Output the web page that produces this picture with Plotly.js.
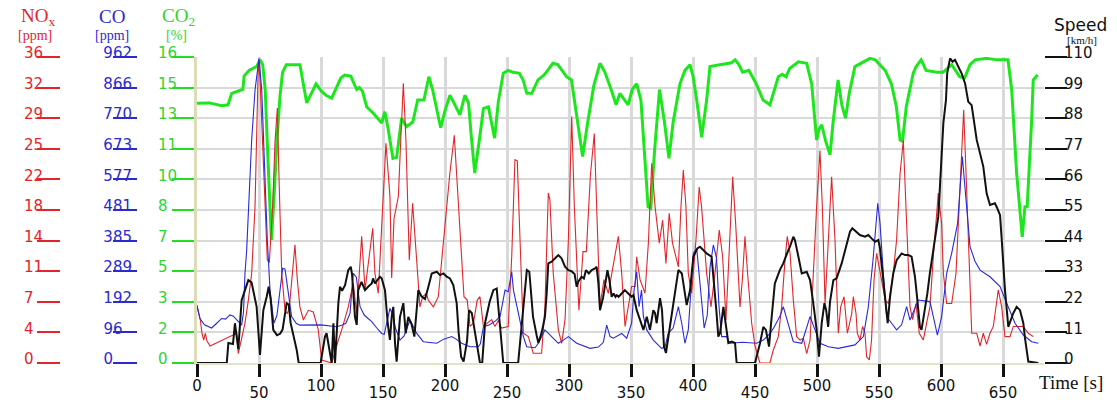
<!DOCTYPE html>
<html>
<head>
<meta charset="utf-8">
<script src="https://cdn.plot.ly/plotly-3.0.1.min.js"></script>
<style>html,body{margin:0;padding:0;background:#fff;}#chart{width:1117px;height:402px;}</style>
</head>
<body>
<div id="chart"></div>
<script>
// ---------------- data ----------------
const xTicks = [0,50,100,150,200,250,300,350,400,450,500,550,600,650];
const noxTicks = ['0','4','7','11','14','18','22','25','29','32','36'];
const coTicks = ['0','96','192','289','385','481','577','673','770','866','962'];
const co2Ticks = ['0','2','3','5','7','8','10','11','13','15','16'];
const speedTicks = ['0','11','22','33','44','55','66','77','88','99','110'];

const tSpeed = [0,24,25.3,29,30.6,33.3,36,40,41.4,44,46.6,48.1,50.8,52.5,53.5,56.2,57.8,59.4,61.5,64.5,67,69,72.3,74,75.5,80.4,82,99.7,103.2,104.5,107.3,108.6,110,111.3,114,115.3,117,119.4,122,124,125,127.4,128.8,130,132.7,135.5,138,140.9,142,143.5,147.6,149,151.6,153.8,155.6,157,158.3,159.7,161,162.4,163.7,166.4,168.3,170.4,173,175.3,177,178.5,181,183.9,186.6,189.3,193.3,196,198.7,201.4,204,206.7,209.4,211,213,215,217.8,219.4,221.6,223.4,225,228.2,230,232.3,236,239,241.7,244.4,247,259,261.8,264,266,268,271,273.9,275.3,278,280.6,282,283.3,286,289,291.4,294,296.8,299.5,302,304.5,306.2,307.5,310.2,312,313.7,316,318.3,321,322.3,323.7,325,327.5,329.8,331,332.6,334.4,336,337.5,338.5,340,342.5,345,347.8,350.5,352,354.6,357.3,360,362.7,365.3,368,369.4,370.7,373.4,375,376.6,378.2,381,382.3,385.5,388.2,391,393,394.9,397.6,400.3,403.5,405.6,408.3,411,415,417.7,419,420.4,421.8,424.5,427.2,428.5,431.2,433.9,435.2,450,454,456.7,458.8,461.3,463,466,470,472.8,476.9,478.2,480.9,482.2,485,487.7,491.7,494.4,497,499.7,501.6,503.8,506,507.4,509,510.5,513.2,515.8,519.9,524,526.6,528.5,532,534.6,538.7,541.4,544,546.8,549.5,550.8,552.7,555,557,558.9,561.5,564.2,568.3,571,573.7,576.3,579,580.4,583,584.3,586.5,589,591,593.8,596.5,597.8,599,601.9,604,605,607.3,609.4,611.3,614,616.7,619.4,622,624.7,628.8,634.1,636.8,639.5,643.5,645,647.6,649,651.6,654.3,658.3,661,663.7,666.4,667.7,670.4,678.5];
const speed = [0,0,7.2,6.8,14.3,5,22.6,28.6,29.8,29,24,20.2,2.9,14,19,23.8,27.4,23,11.9,10,10.5,12,21.5,21,14.4,4.7,0,0,9.5,10.7,3,0,14.3,0,21.5,27.4,26,28,33.4,34.6,32,16.6,13.7,26.2,29.2,26.2,27.4,28.6,30.4,28.6,31,30.4,26.2,14.3,8.3,16.6,20.2,7,0.5,8,16.6,21.5,10.7,16.6,14,9.5,19,26.2,24,23,27.4,32.2,32.8,31.6,32.2,31,30.4,28,21.5,11,2.3,0.5,8,19,18,13,9,0,0,14.4,22,26.2,26.8,14.4,0,0,14.4,26,33.4,32.8,16.6,10,7.2,11,16.6,25,35.8,36.4,37.6,38.8,37.6,34.6,33.4,33,32,27.4,29.2,31,30.4,33.4,32.2,33.4,34,34.6,28.6,19,23.5,29.8,33.4,29.8,23.8,25,23.8,24.4,23.8,25,26.2,25,23.8,24.4,19,15.5,11.9,16.6,11.9,19,17.9,14.3,23.3,19,5.9,3.6,11.9,16.6,26.2,33.4,32.2,26.2,20.8,26.2,38.2,41.2,41.8,40.6,39.4,38.2,26.2,17.9,9.5,10.7,20.2,11.9,7.2,7.7,7.2,0,0,7,13,11.9,5.9,14.4,28.6,33.4,35.8,40.6,41.8,45.4,44.2,38.2,32.2,32.8,29.8,21.5,11.9,2.3,14.3,21.5,19,13,22,29.8,30.4,35.8,43,47.2,48.4,47.2,46,45.4,46,44.8,43.6,44.2,41.2,33,23.8,14.3,23.8,32.2,37,39.4,38.8,38.8,38.2,31,25,13,11.9,17.9,25,32.2,40.6,50.2,52.6,62.2,86.2,94.5,104.1,109.5,108.3,109,106.5,104,100.5,93.9,92.7,80.2,70.6,61,56.8,57.4,56,53.2,44.2,26.2,13,17.9,20.2,19,14.3,9,0.5,0];

const tNox = [0,1.2,2.7,4,5.4,6.7,8,10.5,32,33.3,34.7,36,38.7,41.4,44.1,46.8,48.1,49.5,50.8,53,54.8,56.7,58.3,61,62.9,64.8,66.1,68.3,71,72.9,74.5,76.3,79,80.9,83,85.8,89.8,93.8,97.8,100.5,108.6,114,116.7,122,126,128.8,130.2,132.8,135.5,138.2,141.7,143.5,146.2,148.9,152.4,155.6,157,158.9,162.4,164.3,166.4,168.5,171.2,173.9,176.6,179.8,182,185,186.5,190.6,194.6,198.6,203.9,207.5,210.8,215.3,217.9,220.2,222.9,226,228.2,231,237.6,240.3,243,245.6,251,253.8,256.4,258.3,260.5,263.2,267.2,271.2,277.9,280.6,283.3,284.6,287.3,291.4,294.1,296.8,299.5,302.2,304.3,308,311.3,314,317.2,320.4,322.3,325,328.2,331.7,339.8,342.5,345.2,350.5,353.2,354.6,357.3,361.3,364,366.7,369.4,372.8,375.5,378.2,380.8,383.5,388.2,390.3,392.2,394.3,396.2,398.9,402.4,405,406.9,411,414.5,417.7,421.2,423.9,426.6,429.8,432,434.4,437.9,439.8,441.9,444,447.3,450,454,462,464.7,468.8,471.5,474.2,476,478.2,480.9,483.6,486.3,489,491.7,494.4,495.7,497.6,499.7,502.4,504.3,506.5,509.1,511.8,514.5,517.2,519.1,521.8,524.5,528,529.3,531.5,532.5,534.6,536.8,538.7,540,542.2,544,546,548.1,551.3,555,557.7,561.5,564.2,567,569.6,571.8,575,577.1,579.8,582.5,585.7,588.4,591.1,593.8,597.8,600.5,601.9,604.6,608.6,612.1,614.8,618.3,620.2,622.9,624.8,628.8,631.5,634.1,636.8,639.5,642.2,646.2,648.9,651.6,655.6,658.3,666.4,670.4,674.5];
const nox = [6.6,5.8,5.06,3.5,2.7,3.5,2.6,2.0,3.5,1.1,2.0,2.7,4.7,7.4,10.55,18.4,28.2,35.6,33.5,26.2,18.4,12.1,11.8,18.4,26,30,22,10.55,6.2,5.8,6.6,9.8,13.9,9.8,6.6,5.06,6.2,6.0,3.9,0.35,0,2.7,3.9,6.6,9.4,5.8,9.4,14.9,8.6,12,15.85,10.55,8.2,16,25.85,19.6,10,17,19.6,26.2,32.9,26.2,12.1,18.8,13.4,6.6,7.8,8.2,7.4,6.6,7.8,14,22.3,26.8,18.4,7.8,7.4,4.3,4.7,7.4,7.8,4.3,5.1,4.3,5,4.1,4.3,12.5,23.9,23.8,14.5,3.5,3.1,1.14,1.14,6.6,20,19.2,10.55,3.9,2.3,5.1,14.5,29,18.4,6.2,13.1,13.1,22,27,18.4,6.6,9.8,8.2,14.9,10.55,4.3,9,9,12.5,9.8,8.2,14.1,23.5,18.4,14.1,16.8,11.7,17.6,14.1,11.3,18.4,22.7,18.4,10.55,8.2,14.5,20.7,18.4,10.55,6.6,10.55,15.65,12.5,5.06,14.5,21.9,16.4,6.6,9.8,14.9,10.55,4.7,2.0,0,0,1.5,3.1,6.6,12.1,14.9,13,7.4,3.1,2.7,2.9,1.1,2.7,6.6,12.9,18.4,25,18.4,7.0,14.5,21.9,14.5,3.5,6.6,7.8,3.5,5.8,7.8,5.8,3.5,2.7,4.3,3.5,0.74,0.35,2.7,9.8,12.9,10.55,7.4,7.0,10.55,14.5,22.3,26.2,18.4,6.6,5.1,7.0,3.5,2.7,4.7,6.6,12.5,20,16.4,10.55,7.0,7.0,10.55,18.4,29.8,22.3,10.55,3.5,3.5,2.0,3.5,2.2,3.5,4.3,8.6,6.6,3.1,3.1,4.3,4.3,3.5,3.1];

const tCo = [0,2.4,6,9.1,11.8,15.9,19.9,23,26.6,29.3,33.3,36,37.5,38.7,40,41.4,42.8,44.1,46.8,50,52.2,54.8,56.7,58.9,62,64.5,66.8,69.1,71,73.1,76.3,80,83,100,106,112.6,116.7,120,123.4,126,128.5,131.5,135,140.9,145,148.9,151,155.6,158,160,163.7,167,171.8,177.2,182.5,193.3,199,205.4,209,213.4,220.2,226.9,228.5,231,236,241,244.4,248.4,251,253.8,255.2,258,260.5,263.2,265.9,272.6,275.3,280.6,286,291.4,295.4,299.5,306.2,317,323.7,327.7,330.4,333.1,335.8,342.5,346.5,350.5,352.5,354.6,356.5,358.5,360,362.7,368,374.7,377.4,380,384,388.2,390.9,393.5,396.2,398.1,400.3,403,406.5,409,411.5,413.7,416.4,419,421,423.1,427,429.8,440,451.3,456.7,462.1,465,470,472.8,476.9,480.9,487.7,494.4,498.4,502.4,509.1,517.2,530.6,537.4,541.4,545.4,549,550.8,553.5,556.2,560.2,564.2,568.2,572.3,575,581.7,591.1,595.2,597.1,600.5,604.6,608.6,613.4,617.2,620.4,623.4,627.4,631.5,639.5,647.6,653,659.7,666.4,673.1,678.5];
const co = [182,140,120,114,110,125,140,138,151,147,130,119,160,282,350,491,600,701,858,958,858,596,387,229,125,150,230,298,295,229,146,125,119,120,117,114,119,125,156,282,270,177,150,130,110,93,90,172,150,110,72,85,135,93,67,62,75,83,75,62,51,51,60,114,120,133,146,229,224,287,229,177,125,83,51,48,62,104,83,62,72,83,62,46,50,65,119,83,78,93,78,125,229,287,177,229,146,104,72,46,50,93,110,177,125,62,104,229,345,360,200,110,150,300,371,330,177,83,83,62,65,62,72,93,110,146,177,120,67,62,146,104,62,51,46,57,83,177,334,502,440,282,146,125,104,120,177,135,198,193,125,88,146,282,345,439,649,491,366,320,292,271,240,188,125,88,67,62];

const tCo2 = [0,10,20,25,28,33,37,38,42,48,51,53,55,57,60,62,64.5,67,69,72,83,88.5,92,96,100.5,104,108.6,112,116,119,124,128.8,131,133.5,136.8,142,146,149,151.5,154,158,161,165,169,174,178,183,187,190,193,196.5,200,204,208,212,216,219,221,224,228,231,235,237.5,240,243,245,247,251,255,260,263,266,270,275,280,284,287,291,294,298,302,305,307,311,315,320,325,329,334,338,341,344,347.7,351,354.6,358,361,363.8,366,369,373,377,380.6,384,389.5,393.5,397.6,400,403,407,411,413.7,421.8,427,431,434,437,440,445,451,456.5,462,466,468.8,472,475,478,482,485,491.7,495.7,499.7,501.5,503.8,507,510.5,513,517,520,523,526,530.6,537,542.7,547,551,555,560,564,567,569,572,577.6,580,584,588,596.5,601.6,605,608.6,615,619,623.4,627.6,636.8,645,654,657,661,665.5,667.7,669.5,673,674.4,678];
const co2 = [13.58,13.6,13.45,13.5,14.1,14.2,14.3,15.0,15.3,15.5,15.85,15.6,14.3,11,6.43,8.5,11.66,14,15.2,15.6,15.6,13.6,14.1,14.6,14.2,14.0,13.85,14.3,14.9,15.06,15.0,14.3,14.4,14.2,13.4,13.07,12.8,12.55,13.14,12.3,10.7,10.75,12.8,12.36,12.6,13.75,13.75,14.97,14.3,13.3,12.3,13.2,14.0,13.5,12.97,14.0,13.6,12.0,9.93,11.8,13.3,13.4,12.6,11.76,13.66,14.5,15.15,15.3,15.2,15.15,14.8,14.1,14.1,14.8,15.06,15.4,15.67,15.6,15.3,14.97,14.8,13.5,12.55,10.8,12.55,14.5,15.67,15.2,14.3,13.5,14.1,13.8,13.5,14.3,14.6,13.75,11,8.17,8.1,11.1,14.3,12.6,10.7,12.6,14.6,15.3,15.6,15.0,13.75,11.8,13.75,15.5,15.6,15.67,15.7,15.85,15.6,15.2,15.3,14.6,13.75,13.5,14.3,14.97,15.1,14.97,15.4,15.6,15.75,15.67,14.6,11.66,12.2,12.45,11.6,10.88,12.6,14.8,13.5,12.8,14.1,15.5,15.75,15.93,15.85,15.6,15.3,14.6,13.4,11.66,11.6,13.4,15.15,15.5,15.85,15.3,15.2,15.2,15.4,15.6,14.97,14.9,15.6,15.85,15.93,15.85,15.85,14.3,9.93,6.6,8.17,8.17,12.55,14.8,15.06];

// ---------------- layout helpers ----------------
const W = 1117, H = 402;
const L = 197, R = 1044, T = 57, B = 363;
const X_MAX = (R - L) / 1.24;

function padLeft(labels) { // left-aligned look: pad short labels with spaces on the right
  const w = Math.max(...labels.map(s => s.length));
  return labels.map(s => s + '\u00a0\u00a0'.repeat(w - s.length));
}
function vals(n, max) { return Array.from({length: n}, (_, i) => i * max / (n - 1)); }

const RED = '#e3252b', BLUE = '#2a2ad0', GREEN = '#22dd22', BLACK = '#111111';
const tickFont = c => ({family: 'DejaVu Sans, Liberation Sans, sans-serif', size: 15, color: c});
const SERIF = 'Liberation Serif, Times New Roman, serif';

const traces = [
  {x: tCo2, y: co2, xaxis: 'x', yaxis: 'y', mode: 'lines', line: {color: '#1ee61e', width: 3}, hoverinfo: 'skip'},
  {x: tNox, y: nox, xaxis: 'x', yaxis: 'y2', mode: 'lines', line: {color: '#e0262b', width: 1.1}, hoverinfo: 'skip'},
  {x: tCo, y: co, xaxis: 'x', yaxis: 'y3', mode: 'lines', line: {color: '#2a2ad8', width: 1.1}, hoverinfo: 'skip'},
  {x: tSpeed, y: speed, xaxis: 'x', yaxis: 'y4', mode: 'lines', line: {color: BLACK, width: 2}, hoverinfo: 'skip'},
  {x: [], y: [], xaxis: 'x2', yaxis: 'y', mode: 'lines', hoverinfo: 'skip'}
];

const commonY = {
  fixedrange: true, automargin: false, zeroline: false, showgrid: false,
  ticks: 'outside', tickwidth: 2, ticklabelshift: -4
};

const layout = {
  width: W, height: H,
  margin: {l: 0, r: 0, t: 0, b: 0},
  paper_bgcolor: '#ffffff', plot_bgcolor: '#ffffff',
  showlegend: false,
  xaxis: {
    domain: [L / W, R / W], range: [0, X_MAX], fixedrange: true, automargin: false,
    tickvals: xTicks, ticktext: xTicks.map(v => v % 100 === 0 ? String(v) : ''),
    ticks: 'outside', ticklen: 12, tickwidth: 3, tickcolor: BLACK, ticklabelstandoff: -4,
    showgrid: true, gridcolor: '#d9d9d9', gridwidth: 3,
    zeroline: false, showline: true, linecolor: '#e2e2c4', linewidth: 2,
    tickfont: tickFont(BLACK)
  },
  xaxis2: {
    overlaying: 'x', anchor: 'y', side: 'bottom', range: [0, X_MAX], fixedrange: true, automargin: false,
    tickvals: xTicks, ticktext: xTicks.map(v => v % 100 === 0 ? '' : String(v)),
    ticks: 'outside', ticklen: 12, tickwidth: 3, tickcolor: BLACK, ticklabelstandoff: 4,
    showgrid: false, zeroline: false, showline: false,
    tickfont: tickFont(BLACK)
  },
  yaxis: Object.assign({}, commonY, {
    domain: [(H - B) / H, (H - T) / H], range: [0, 16], anchor: 'x', side: 'left',
    tickvals: vals(co2Ticks.length, 16), ticktext: padLeft(co2Ticks),
    ticklen: 22, tickcolor: GREEN, ticklabelstandoff: -8,
    showgrid: true, gridcolor: '#d9d9d9', gridwidth: 2,
    showline: true, linecolor: '#dcdcb6', linewidth: 3,
    tickfont: tickFont('#2fd42f')
  }),
  yaxis2: Object.assign({}, commonY, {
    overlaying: 'y', anchor: 'free', position: 60 / W, side: 'left', range: [0, 36],
    tickvals: vals(noxTicks.length, 36), ticktext: padLeft(noxTicks),
    ticklen: 23, tickcolor: RED, ticklabelstandoff: -9, showline: false,
    tickfont: tickFont(RED)
  }),
  yaxis3: Object.assign({}, commonY, {
    overlaying: 'y', anchor: 'free', position: 137 / W, side: 'left', range: [0, 962],
    tickvals: vals(coTicks.length, 962), ticktext: padLeft(coTicks),
    ticklen: 24, tickcolor: BLUE, ticklabelstandoff: -22, showline: false,
    tickfont: tickFont(BLUE)
  }),
  yaxis4: Object.assign({}, commonY, {
    overlaying: 'y', anchor: 'x', side: 'right', range: [0, 110],
    tickvals: vals(speedTicks.length, 110), ticktext: speedTicks,
    ticklen: 22, tickcolor: BLACK, ticklabelstandoff: -6, showline: false,
    tickfont: tickFont(BLACK)
  }),
  annotations: [
    {text: 'NO<sub>x</sub>', x: 38 / W, y: (H - 17) / H, font: {family: SERIF, size: 19, color: RED}},
    {text: '[ppm]', x: 35 / W, y: (H - 35) / H, font: {family: SERIF, size: 14, color: RED}},
    {text: 'CO', x: 112 / W, y: (H - 17) / H, font: {family: SERIF, size: 19, color: BLUE}},
    {text: '[ppm]', x: 112 / W, y: (H - 35) / H, font: {family: SERIF, size: 14, color: BLUE}},
    {text: 'CO<sub>2</sub>', x: 178 / W, y: (H - 17) / H, font: {family: SERIF, size: 19, color: '#2fd42f'}},
    {text: '[%]', x: 176 / W, y: (H - 35) / H, font: {family: SERIF, size: 14, color: '#2fd42f'}},
    {text: 'Speed', x: 1080 / W, y: (H - 25) / H, font: {family: 'DejaVu Sans, sans-serif', size: 17, color: BLACK}},
    {text: '[km/h]', x: 1082 / W, y: (H - 40) / H, font: {family: SERIF, size: 11, color: BLACK}},
    {text: 'Time [s]', x: 1071 / W, y: (H - 382) / H, font: {family: SERIF, size: 19, color: BLACK}}
  ].map(a => Object.assign({xref: 'paper', yref: 'paper', showarrow: false, xanchor: 'center', yanchor: 'middle'}, a))
};

Plotly.newPlot('chart', traces, layout, {displayModeBar: false, staticPlot: true});
</script>
</body>
</html>
